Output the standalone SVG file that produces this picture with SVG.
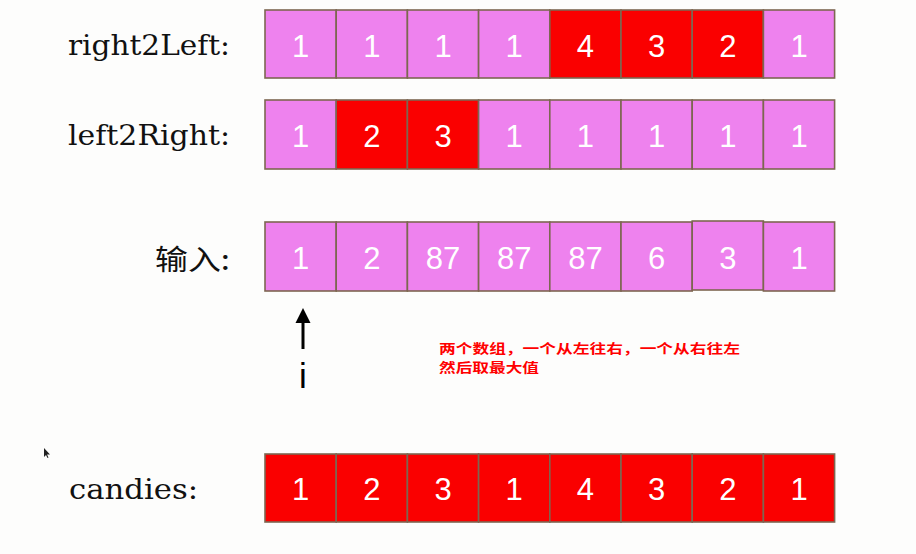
<svg xmlns="http://www.w3.org/2000/svg" width="916" height="554" viewBox="0 0 916 554">
<style>
.p{fill:#ee82ee;stroke:#7d6651;stroke-width:1.6}
.r{fill:#fa0000;stroke:#7d6651;stroke-width:1.6}
.n{font-family:"Liberation Sans",Arial,sans-serif;font-size:31px;fill:#ffffff;text-anchor:middle}
.lab{font-family:"DejaVu Serif","Liberation Serif",serif;font-size:28px;fill:#111111}
.cjk{font-family:"Noto Sans CJK SC",sans-serif;font-size:28px;fill:#111111}
.note{font-family:"Noto Sans CJK SC",sans-serif;font-size:13px;font-weight:bold;fill:#ff0000}
</style>
<rect width="916" height="554" fill="#fdfdfc"/>
<g id="labels">
<text class="lab" x="68" y="55" textLength="162" lengthAdjust="spacingAndGlyphs">right2Left:</text>
<text class="lab" x="68" y="145" textLength="162" lengthAdjust="spacingAndGlyphs">left2Right:</text>
<text class="cjk" x="155" y="270" textLength="75" lengthAdjust="spacingAndGlyphs">输入:</text>
<text class="lab" x="69" y="499" textLength="129" lengthAdjust="spacingAndGlyphs">candies:</text>
</g>
<g id="row-right2Left">
<g id="r1c1"><rect class="p" x="265" y="10" width="71.2" height="68"/><text class="n" x="300.6" y="57">1</text></g>
<g id="r1c2"><rect class="p" x="336.2" y="10" width="71.2" height="68"/><text class="n" x="371.8" y="57">1</text></g>
<g id="r1c3"><rect class="p" x="407.4" y="10" width="71.2" height="68"/><text class="n" x="443" y="57">1</text></g>
<g id="r1c4"><rect class="p" x="478.6" y="10" width="71.2" height="68"/><text class="n" x="514.2" y="57">1</text></g>
<g id="r1c5"><rect class="r" x="549.8" y="10" width="71.2" height="68"/><text class="n" x="585.4" y="57">4</text></g>
<g id="r1c6"><rect class="r" x="621" y="10" width="71.2" height="68"/><text class="n" x="656.6" y="57">3</text></g>
<g id="r1c7"><rect class="r" x="692.2" y="10" width="71.2" height="68"/><text class="n" x="727.8" y="57">2</text></g>
<g id="r1c8"><rect class="p" x="763.4" y="10" width="71.2" height="68"/><text class="n" x="799" y="57">1</text></g>
</g>
<g id="row-left2Right">
<g id="r2c1"><rect class="p" x="265" y="100" width="71.2" height="69"/><text class="n" x="300.6" y="147">1</text></g>
<g id="r2c2"><rect class="r" x="336.2" y="100" width="71.2" height="69"/><text class="n" x="371.8" y="147">2</text></g>
<g id="r2c3"><rect class="r" x="407.4" y="100" width="71.2" height="69"/><text class="n" x="443" y="147">3</text></g>
<g id="r2c4"><rect class="p" x="478.6" y="100" width="71.2" height="69"/><text class="n" x="514.2" y="147">1</text></g>
<g id="r2c5"><rect class="p" x="549.8" y="100" width="71.2" height="69"/><text class="n" x="585.4" y="147">1</text></g>
<g id="r2c6"><rect class="p" x="621" y="100" width="71.2" height="69"/><text class="n" x="656.6" y="147">1</text></g>
<g id="r2c7"><rect class="p" x="692.2" y="100" width="71.2" height="69"/><text class="n" x="727.8" y="147">1</text></g>
<g id="r2c8"><rect class="p" x="763.4" y="100" width="71.2" height="69"/><text class="n" x="799" y="147">1</text></g>
</g>
<g id="row-input">
<g id="r3c1"><rect class="p" x="265" y="222" width="71.2" height="69"/><text class="n" x="300.6" y="269">1</text></g>
<g id="r3c2"><rect class="p" x="336.2" y="222" width="71.2" height="69"/><text class="n" x="371.8" y="269">2</text></g>
<g id="r3c3"><rect class="p" x="407.4" y="222" width="71.2" height="69"/><text class="n" x="443" y="269">87</text></g>
<g id="r3c4"><rect class="p" x="478.6" y="222" width="71.2" height="69"/><text class="n" x="514.2" y="269">87</text></g>
<g id="r3c5"><rect class="p" x="549.8" y="222" width="71.2" height="69"/><text class="n" x="585.4" y="269">87</text></g>
<g id="r3c6"><rect class="p" x="621" y="222" width="71.2" height="69"/><text class="n" x="656.6" y="269">6</text></g>
<g id="r3c7"><rect class="p" x="692.2" y="221" width="71.2" height="69"/><text class="n" x="727.8" y="269">3</text></g>
<g id="r3c8"><rect class="p" x="763.4" y="222" width="71.2" height="69"/><text class="n" x="799" y="269">1</text></g>
</g>
<g id="row-candies">
<g id="r4c1"><rect class="r" x="265" y="454" width="71.2" height="68"/><text class="n" x="300.6" y="500">1</text></g>
<g id="r4c2"><rect class="r" x="336.2" y="454" width="71.2" height="68"/><text class="n" x="371.8" y="500">2</text></g>
<g id="r4c3"><rect class="r" x="407.4" y="454" width="71.2" height="68"/><text class="n" x="443" y="500">3</text></g>
<g id="r4c4"><rect class="r" x="478.6" y="454" width="71.2" height="68"/><text class="n" x="514.2" y="500">1</text></g>
<g id="r4c5"><rect class="r" x="549.8" y="454" width="71.2" height="68"/><text class="n" x="585.4" y="500">4</text></g>
<g id="r4c6"><rect class="r" x="621" y="454" width="71.2" height="68"/><text class="n" x="656.6" y="500">3</text></g>
<g id="r4c7"><rect class="r" x="692.2" y="454" width="71.2" height="68"/><text class="n" x="727.8" y="500">2</text></g>
<g id="r4c8"><rect class="r" x="763.4" y="454" width="71.2" height="68"/><text class="n" x="799" y="500">1</text></g>
</g>
<g id="connectors">
<line x1="303" y1="320" x2="303" y2="349" stroke="#000" stroke-width="3"/>
<polygon points="303,308 295.5,323 310.5,323" fill="#000"/>
</g>
<g id="pointer-i">
<text x="303" y="388" font-family="Liberation Sans,Arial,sans-serif" font-size="35" fill="#000" text-anchor="middle">i</text>
</g>
<g id="note">
<text class="note" x="439" y="352.5" textLength="301" lengthAdjust="spacingAndGlyphs">两个数组，一个从左往右，一个从右往左</text>
<text class="note" x="439" y="371.5" textLength="100" lengthAdjust="spacingAndGlyphs">然后取最大值</text>
</g>
<polygon id="cursor" points="44,448 44,457 46,455 47.5,458 48.5,457.5 47,454.5 50,454.5" fill="#222"/>
</svg>
